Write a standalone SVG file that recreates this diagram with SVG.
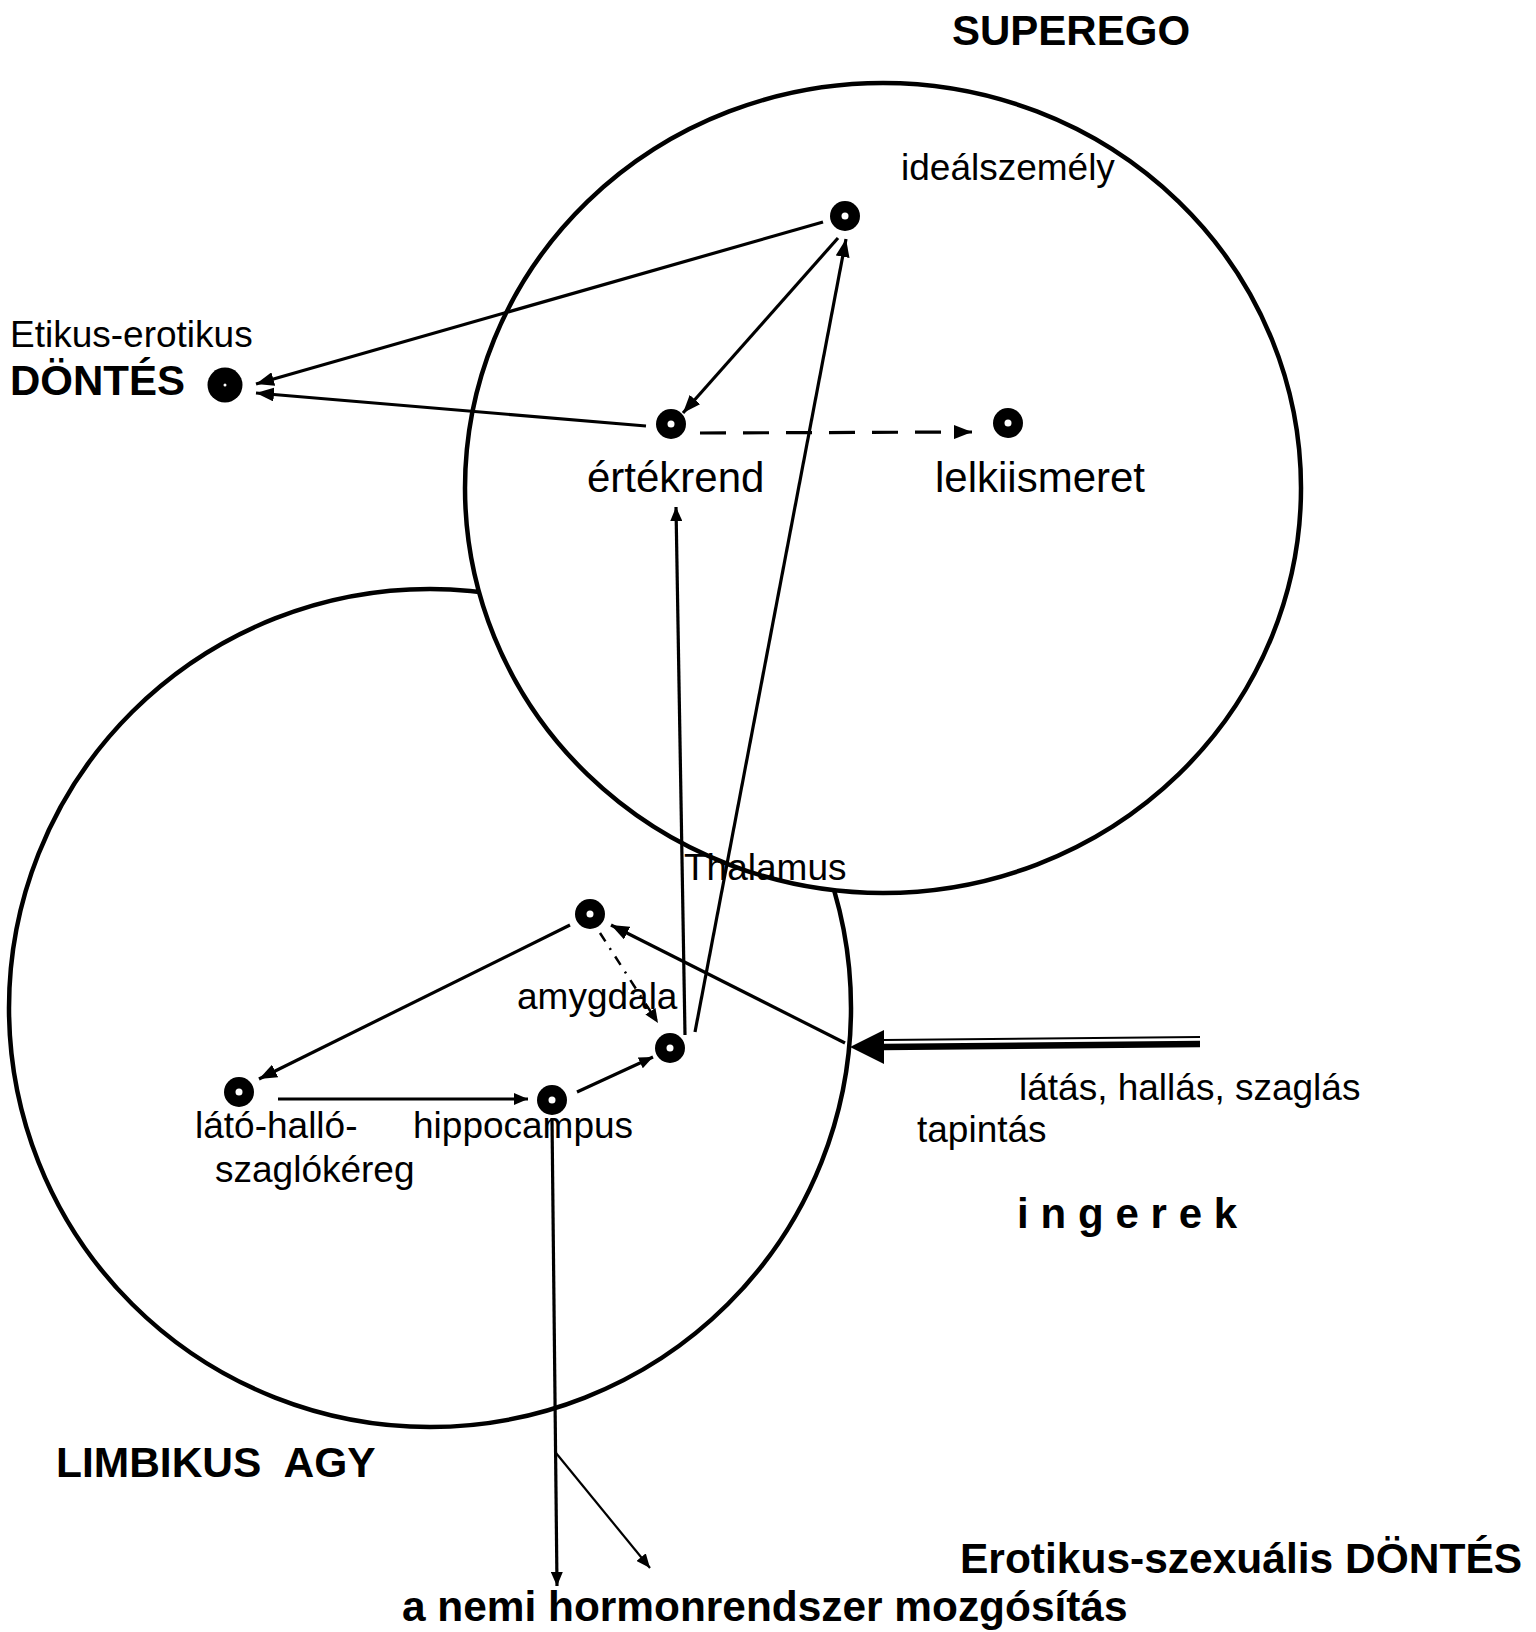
<svg xmlns="http://www.w3.org/2000/svg" width="1536" height="1632" viewBox="0 0 1536 1632">
<defs>
<style>
.circ{fill:#fff;stroke:#000;stroke-width:4.5}
.ln{stroke:#000;stroke-width:3.2;fill:none}
.t{font-family:"Liberation Sans",Arial,sans-serif;fill:#000}
.b{font-weight:bold}
</style>
<marker id="ah" viewBox="0 0 18 14" refX="18" refY="7" markerWidth="18" markerHeight="14" markerUnits="userSpaceOnUse" orient="auto">
<path d="M0,0 L18,7 L0,14 z" fill="#000"/>
</marker>
<marker id="ahs" viewBox="0 0 14 12" refX="14" refY="6" markerWidth="14" markerHeight="12" markerUnits="userSpaceOnUse" orient="auto">
<path d="M0,0 L14,6 L0,12 z" fill="#000"/>
</marker>
</defs>
<rect width="1536" height="1632" fill="#fff"/>
<g id="limbikus">
<ellipse class="circ" cx="430" cy="1008" rx="421" ry="419"/>
</g>
<g id="superego">
<ellipse class="circ" cx="883" cy="488" rx="418" ry="405"/>
</g>
<g id="connectors">
<line class="ln" x1="823" y1="222" x2="256" y2="384" marker-end="url(#ah)"/>
<line class="ln" x1="646" y1="426" x2="256" y2="393" marker-end="url(#ah)"/>
<line class="ln" x1="838" y1="238" x2="683" y2="413" marker-end="url(#ah)"/>
<line class="ln" x1="700" y1="433" x2="972" y2="432" stroke-dasharray="26 17" marker-end="url(#ah)"/>
<line class="ln" x1="685" y1="1035" x2="676" y2="507" marker-end="url(#ahs)"/>
<line class="ln" x1="695" y1="1032" x2="846" y2="239" marker-end="url(#ah)"/>
<line class="ln" x1="570" y1="925" x2="259" y2="1079" marker-end="url(#ah)"/>
<line class="ln" x1="278" y1="1099" x2="528" y2="1099" marker-end="url(#ahs)"/>
<line class="ln" x1="577" y1="1092" x2="653" y2="1057" marker-end="url(#ahs)"/>
<line stroke="#000" stroke-width="2.5" x1="600" y1="933" x2="658" y2="1023" stroke-dasharray="10 8 2 8" marker-end="url(#ahs)"/>
<line class="ln" x1="845" y1="1043" x2="611" y2="925" marker-end="url(#ah)"/>
<line stroke="#000" stroke-width="2" x1="884" y1="1040" x2="1200" y2="1037"/>
<line stroke="#000" stroke-width="6.5" x1="884" y1="1047" x2="1200" y2="1044"/>
<polygon points="850,1047 884,1030 884,1064" fill="#000"/>
<line class="ln" x1="552" y1="1118" x2="557" y2="1586" marker-end="url(#ahs)"/>
<line stroke="#000" stroke-width="2.2" x1="556" y1="1453" x2="650" y2="1568" marker-end="url(#ahs)"/>
</g>
<g id="node-dontes">
<circle cx="225" cy="385" r="17.5" fill="#000"/>
<circle cx="225" cy="385" r="1.5" fill="#fff"/>
<text class="t" x="10" y="347" font-size="37">Etikus-erotikus</text>
<text class="t b" x="10" y="395" font-size="42">DÖNTÉS</text>
</g>
<g id="node-idealszemely">
<circle cx="845" cy="216" r="15" fill="#000"/>
<circle cx="845" cy="216" r="3.5" fill="#fff"/>
<text class="t" x="901" y="180" font-size="37">ideálszemély</text>
</g>
<g id="node-ertekrend">
<circle cx="671" cy="424" r="15" fill="#000"/>
<circle cx="671" cy="424" r="3.5" fill="#fff"/>
<text class="t" x="587" y="492" font-size="42">értékrend</text>
</g>
<g id="node-lelkiismeret">
<circle cx="1008" cy="423" r="15" fill="#000"/>
<circle cx="1008" cy="423" r="3.5" fill="#fff"/>
<text class="t" x="935" y="492" font-size="42">lelkiismeret</text>
</g>
<g id="node-thalamus">
<circle cx="590" cy="914" r="15" fill="#000"/>
<circle cx="590" cy="914" r="3.5" fill="#fff"/>
<text class="t" x="684" y="880" font-size="37">Thalamus</text>
</g>
<g id="node-amygdala">
<circle cx="670" cy="1048" r="15" fill="#000"/>
<circle cx="670" cy="1048" r="3.5" fill="#fff"/>
<text class="t" x="517" y="1009" font-size="37">amygdala</text>
</g>
<g id="node-lato">
<circle cx="239" cy="1092" r="15" fill="#000"/>
<circle cx="239" cy="1092" r="3.5" fill="#fff"/>
<text class="t" x="195" y="1138" font-size="37">látó-halló-</text>
<text class="t" x="215" y="1182" font-size="37">szaglókéreg</text>
</g>
<g id="node-hippocampus">
<circle cx="552" cy="1100" r="15" fill="#000"/>
<circle cx="552" cy="1100" r="3.5" fill="#fff"/>
<text class="t" x="413" y="1138" font-size="37">hippocampus</text>
</g>
<g id="labels">
<text class="t b" x="952" y="45" font-size="42">SUPEREGO</text>
<text class="t" x="1019" y="1100" font-size="37">látás, hallás, szaglás</text>
<text class="t" x="917" y="1142" font-size="37">tapintás</text>
<text class="t b" x="1017" y="1228" font-size="42" letter-spacing="11.8">ingerek</text>
<text class="t b" x="56" y="1477" font-size="42.5" xml:space="preserve">LIMBIKUS  AGY</text>
<text class="t b" x="960" y="1573" font-size="42.5">Erotikus-szexuális DÖNTÉS</text>
<text class="t b" x="402" y="1621" font-size="42.4">a nemi hormonrendszer mozgósítás</text>
</g>
</svg>
